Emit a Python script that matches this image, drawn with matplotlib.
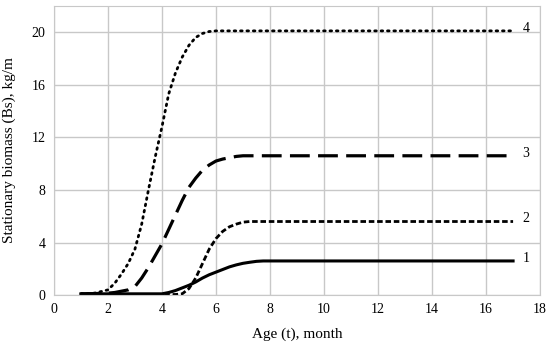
import numpy as np
import matplotlib
matplotlib.use('Agg')
import matplotlib.pyplot as plt

plt.rcParams['font.family'] = ['Liberation Serif', 'DejaVu Serif']

# age, month
t = [1, 1.5, 2, 2.25, 2.5, 2.75, 3, 3.25, 3.5, 3.75, 4, 4.25, 4.5, 4.75, 5,
     5.25, 5.5, 5.75, 6, 6.25, 6.5, 6.75, 7, 7.25, 7.5, 7.75, 8,
     9, 10, 11, 12, 13, 14, 15, 16, 17]

# stationary biomass, kg/m
bs1 = [0.1, 0.1, 0.1, 0.1, 0.1, 0.1, 0.1, 0.1, 0.1, 0.1, 0.1, 0.2, 0.35, 0.55, 0.75,
       1.0, 1.3, 1.55, 1.75, 1.95, 2.15, 2.3, 2.42, 2.5, 2.57, 2.6, 2.6,
       2.6, 2.6, 2.6, 2.6, 2.6, 2.6, 2.6, 2.6, 2.6]
bs2 = [0.05, 0.05, 0.05, 0.05, 0.05, 0.05, 0.05, 0.05, 0.05, 0.05, 0.05, 0.05, 0.05, 0.1, 0.5,
       1.3, 2.4, 3.5, 4.3, 4.85, 5.2, 5.4, 5.55, 5.6, 5.6, 5.6, 5.6,
       5.6, 5.6, 5.6, 5.6, 5.6, 5.6, 5.6, 5.6, 5.6]
bs3 = [0.1, 0.12, 0.15, 0.2, 0.3, 0.4, 0.65, 1.3, 2.1, 3.0, 3.9, 5.0, 6.1, 7.2, 8.2,
       8.9, 9.5, 9.9, 10.2, 10.35, 10.45, 10.55, 10.6, 10.6, 10.6, 10.6, 10.6,
       10.6, 10.6, 10.6, 10.6, 10.6, 10.6, 10.6, 10.6, 10.6]
bs4 = [0.1, 0.15, 0.4, 0.9, 1.6, 2.4, 3.5, 5.4, 8.0, 10.5, 12.8, 15.3, 16.9, 18.1, 19.0,
       19.6, 19.9, 20.05, 20.1, 20.1, 20.1, 20.1, 20.1, 20.1, 20.1, 20.1, 20.1,
       20.1, 20.1, 20.1, 20.1, 20.1, 20.1, 20.1, 20.1, 20.1]
curve_labels = ['1', '2', '3', '4']

fig = plt.figure(figsize=(5.5, 3.46), dpi=100)
ax = fig.add_axes([0.098, 0.147, 0.884, 0.836])

ax.plot(t, bs1, color='black', lw=2.2, linestyle='-')
ax.plot(t, bs2, color='black', lw=2.0, linestyle=(0, (2, 1)))
ax.plot(t, bs3, color='black', lw=2.3, linestyle=(0, (6.2, 2.6)))
ax.plot(t, bs4, color='black', lw=2.0, linestyle=(0, (0.6, 1.7)), dash_capstyle='round')

for lab, ys in zip(curve_labels, [bs1, bs2, bs3, bs4]):
    ax.text(t[-1] + 0.35, ys[-1] + 0.2, lab, fontsize=10, va='center', ha='left')

ax.set_xlim(0, 18)
ax.set_ylim(0, 22)
ax.set_xticks(np.arange(0, 19, 2))
ax.set_yticks(np.arange(0, 21, 4))
ax.tick_params(length=0, labelsize=10, pad=6)
ax.grid(True, color='#c8c8c8', lw=1)
ax.set_axisbelow(True)
for s in ax.spines.values():
    s.set_color('#c8c8c8')

ax.set_xlabel('Age (t), month', fontsize=11, labelpad=8)
ax.set_ylabel('Stationary biomass (Bs), kg/m', fontsize=11, labelpad=11)

plt.savefig('out.png', dpi=100)
